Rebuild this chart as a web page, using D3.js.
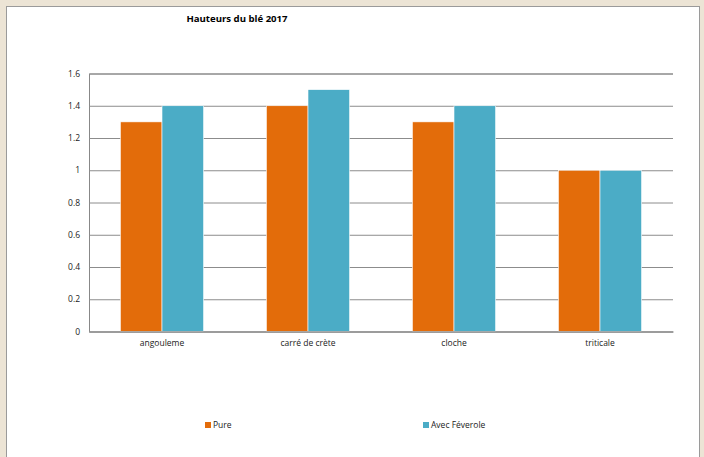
<!DOCTYPE html>
<html><head><meta charset="utf-8">
<script src="https://cdn.jsdelivr.net/npm/d3@7"></script>
<style>body{margin:0;background:#ECE4D5;}svg{display:block;}</style>
</head><body><svg id="c" width="704" height="457"></svg>
<script>
const categories = ["angouleme", "carré de crète", "cloche", "triticale"];
const seriesNames = ["Pure", "Avec Féverole"];
const pure = [1.3, 1.4, 1.3, 1.0];
const feverole = [1.4, 1.5, 1.4, 1.0];
const yTicks = [0, 0.2, 0.4, 0.6, 0.8, 1, 1.2, 1.4, 1.6];
const colors = ["#E36C0A", "#4BACC6"];

const svg = d3.select("#c");
const font = "'Open Sans', sans-serif";
svg.append("rect").attr("x", 6.5).attr("y", 6.5).attr("width", 693).attr("height", 460)
  .attr("fill", "#fff").attr("stroke", "#9a9a9a");

const m = {l: 89, r: 673, t: 73.5, b: 331.5};
const x0 = d3.scaleBand().domain(categories).range([m.l, m.r]).paddingInner(0.43).paddingOuter(0.215);
const x1 = d3.scaleBand().domain(seriesNames).range([0, x0.bandwidth()]);
const y = d3.scaleLinear().domain([0, 1.6]).range([m.b, m.t]);

svg.append("text").attr("x", 237).attr("y", 22).attr("text-anchor", "middle")
  .attr("font-family", font).attr("font-weight", "bold").attr("font-size", 9.6).attr("fill", "#000")
  .text("Hauteurs du blé 2017");

const yAxis = svg.append("g").attr("transform", `translate(${m.l},0)`)
  .call(d3.axisLeft(y).tickValues(yTicks).tickSize(-(m.r - m.l)).tickPadding(9).tickFormat(d => String(d)));
yAxis.select(".domain").attr("stroke", "#888");
yAxis.selectAll(".tick line").attr("stroke", "#8c8c8c");
yAxis.selectAll(".tick text").attr("font-family", font).attr("font-size", 8.5).attr("fill", "#222");

const data = categories.map((c, i) => ({c, vals: [pure[i], feverole[i]]}));
const g = svg.append("g");
data.forEach(d => {
  d.vals.forEach((v, j) => {
    g.append("rect").attr("x", x0(d.c) + x1(seriesNames[j])).attr("y", y(v))
      .attr("width", x1.bandwidth()).attr("height", y(0) - y(v)).attr("fill", colors[j])
      .attr("stroke", "#fff").attr("stroke-width", 0.6);
  });
});

const xAxis = svg.append("g").attr("transform", `translate(0,${m.b})`)
  .call(d3.axisBottom(x0).tickSize(0).tickPadding(8));
xAxis.select(".domain").attr("stroke", "#999").attr("stroke-width", 1.5);
xAxis.selectAll(".tick text").attr("font-family", font).attr("font-size", 8.5).attr("fill", "#222");

const leg = svg.append("g");
const legX = [205, 423];
seriesNames.forEach((s, i) => {
  leg.append("rect").attr("x", legX[i]).attr("y", 422).attr("width", 6).attr("height", 6).attr("fill", colors[i]);
  leg.append("text").attr("x", legX[i] + 8).attr("y", 428).attr("font-family", font).attr("font-size", 8.5)
    .attr("fill", "#222").text(s);
});
</script></body></html>
